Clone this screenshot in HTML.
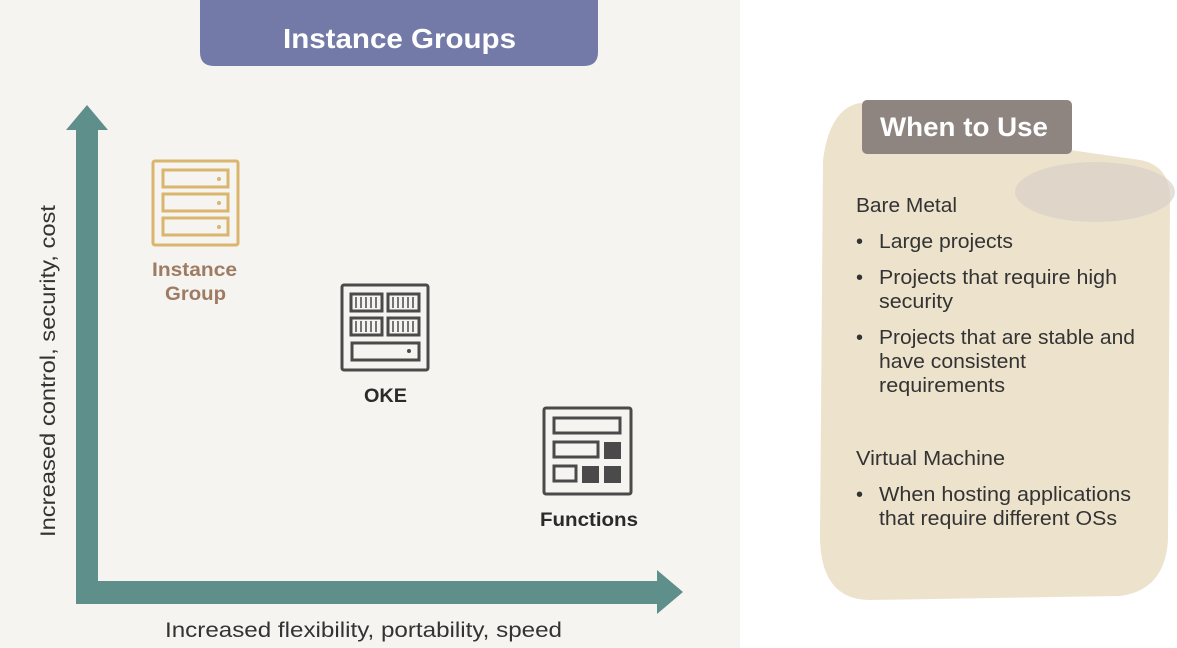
<!DOCTYPE html>
<html><head><meta charset="utf-8"><style>
html,body{margin:0;padding:0;width:1177px;height:648px;overflow:hidden;background:#fff}
svg{display:block}
text{font-family:"Liberation Sans",sans-serif}
</style></head><body>
<svg width="1177" height="648" viewBox="0 0 1177 648" xmlns="http://www.w3.org/2000/svg">
<rect x="0" y="0" width="740" height="648" fill="#f6f4f1"/>
<rect x="740" y="0" width="437" height="648" fill="#ffffff"/>
<!-- title -->
<path d="M200,-10 H598 V52 Q598,66 584,66 H214 Q200,66 200,52 Z" fill="#747aa8"/>
<text x="283" y="48" font-size="28" font-weight="bold" fill="#fff" textLength="233" lengthAdjust="spacingAndGlyphs">Instance Groups</text>
<!-- axes -->
<rect x="76" y="128" width="22" height="476" fill="#5e8f8a"/>
<polygon points="87,105 66,130 108,130" fill="#5e8f8a"/>
<rect x="76" y="581" width="584" height="23" fill="#5e8f8a"/>
<polygon points="683,592 657,570 657,614" fill="#5e8f8a"/>
<text transform="translate(55,537) rotate(-90)" font-size="21" fill="#333" textLength="332" lengthAdjust="spacingAndGlyphs">Increased control, security, cost</text>
<text x="165" y="637" font-size="21" fill="#333" textLength="397" lengthAdjust="spacingAndGlyphs">Increased flexibility, portability, speed</text>
<!-- instance group icon -->
<g fill="none" stroke="#d9b56d" stroke-width="3">
<rect x="153" y="161" width="85" height="84" rx="2"/>
<rect x="163" y="170" width="65" height="17"/>
<rect x="163" y="194" width="65" height="17"/>
<rect x="163" y="218" width="65" height="17"/>
</g>
<g fill="#d9b56d"><circle cx="219" cy="179" r="2"/><circle cx="219" cy="203" r="2"/><circle cx="219" cy="227" r="2"/></g>
<text x="152" y="276" font-size="19" font-weight="bold" fill="#9e7b63" textLength="85" lengthAdjust="spacingAndGlyphs">Instance</text>
<text x="165" y="300" font-size="19" font-weight="bold" fill="#9e7b63" textLength="61" lengthAdjust="spacingAndGlyphs">Group</text>
<!-- OKE icon -->
<g fill="none" stroke="#4a4a4a" stroke-width="3">
<rect x="342" y="285" width="86" height="85" rx="2"/>
<rect x="351" y="294" width="31" height="17"/>
<rect x="388" y="294" width="31" height="17"/>
<rect x="351" y="318" width="31" height="17"/>
<rect x="388" y="318" width="31" height="17"/>
<rect x="352" y="343" width="67" height="17"/>
</g>
<g stroke="#4a4a4a" stroke-width="1.5">
<path d="M356,297v11M361,297v11M366,297v11M371,297v11M376,297v11M393,297v11M398,297v11M403,297v11M408,297v11M413,297v11M356,321v11M361,321v11M366,321v11M371,321v11M376,321v11M393,321v11M398,321v11M403,321v11M408,321v11M413,321v11"/>
</g>
<circle cx="409" cy="351" r="2" fill="#4a4a4a"/>
<text x="364" y="402" font-size="19" font-weight="bold" fill="#2a2a2a" textLength="43" lengthAdjust="spacingAndGlyphs">OKE</text>
<!-- Functions icon -->
<g fill="none" stroke="#4a4a4a" stroke-width="3">
<rect x="544" y="408" width="87" height="86" rx="2"/>
<rect x="554" y="418" width="66" height="15"/>
<rect x="554" y="442" width="44" height="15"/>
<rect x="554" y="466" width="22" height="15"/>
</g>
<g fill="#4a4a4a">
<rect x="604" y="442" width="17" height="17"/>
<rect x="582" y="466" width="17" height="17"/>
<rect x="604" y="466" width="17" height="17"/>
</g>
<text x="540" y="526" font-size="19" font-weight="bold" fill="#2a2a2a" textLength="98" lengthAdjust="spacingAndGlyphs">Functions</text>
<!-- right panel -->
<path d="M860,103 Q830,108 823,160 L820,540 Q822,600 870,600 L1120,596 Q1165,590 1168,540 L1170,195 Q1168,165 1140,160 L1070,150 Z" fill="#ede2cc"/>
<ellipse cx="1095" cy="192" rx="80" ry="30" fill="#d9d2c8" opacity="0.7"/>
<rect x="862" y="100" width="210" height="54" rx="5" fill="#8e8580"/>
<text x="880" y="136" font-size="27" font-weight="bold" fill="#fff" textLength="168" lengthAdjust="spacingAndGlyphs">When to Use</text>
<g font-size="20" fill="#333" lengthAdjust="spacingAndGlyphs">
<text x="856" y="212" textLength="101" lengthAdjust="spacingAndGlyphs">Bare Metal</text>
<text x="856" y="248">•</text><text x="879" y="248" textLength="134" lengthAdjust="spacingAndGlyphs">Large projects</text>
<text x="856" y="284">•</text><text x="879" y="284" textLength="238" lengthAdjust="spacingAndGlyphs">Projects that require high</text>
<text x="879" y="308" textLength="74" lengthAdjust="spacingAndGlyphs">security</text>
<text x="856" y="344">•</text><text x="879" y="344" textLength="256" lengthAdjust="spacingAndGlyphs">Projects that are stable and</text>
<text x="879" y="368" textLength="147" lengthAdjust="spacingAndGlyphs">have consistent</text>
<text x="879" y="392" textLength="126" lengthAdjust="spacingAndGlyphs">requirements</text>
<text x="856" y="465" textLength="149" lengthAdjust="spacingAndGlyphs">Virtual Machine</text>
<text x="856" y="501">•</text><text x="879" y="501" textLength="252" lengthAdjust="spacingAndGlyphs">When hosting applications</text>
<text x="879" y="525" textLength="238" lengthAdjust="spacingAndGlyphs">that require different OSs</text>
</g>
</svg>
</body></html>
